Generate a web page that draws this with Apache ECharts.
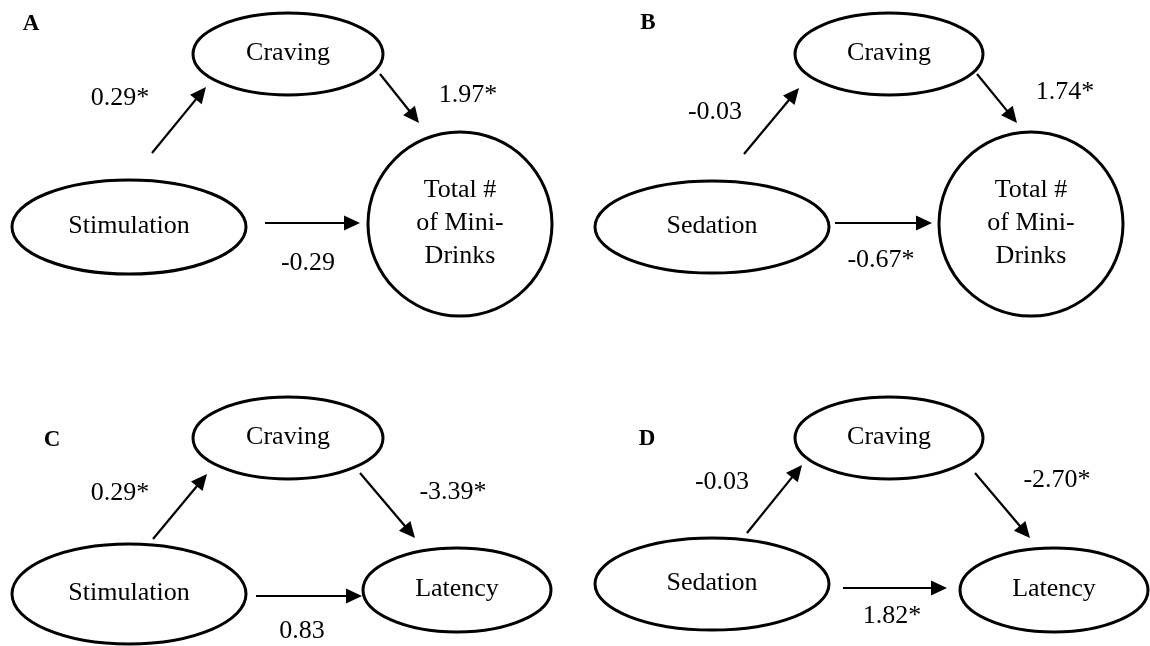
<!DOCTYPE html>
<html>
<head>
<meta charset="utf-8">
<script src="https://cdn.jsdelivr.net/npm/echarts@6/dist/echarts.min.js"></script>
<style>
  html, body { margin: 0; padding: 0; background: #ffffff; }
  #chart { width: 1150px; height: 646px; }
</style>
</head>
<body>
<div id="chart"></div>
<script>
// ---- Data ----
const panelLetters = ['A', 'B', 'C', 'D'];
const predictors   = ['Stimulation', 'Sedation', 'Stimulation', 'Sedation'];
const mediators    = ['Craving', 'Craving', 'Craving', 'Craving'];
const outcomes     = ['Total #\nof Mini-\nDrinks', 'Total #\nof Mini-\nDrinks', 'Latency', 'Latency'];
const pathA        = ['0.29*', '-0.03', '0.29*', '-0.03'];   // predictor -> craving
const pathB        = ['1.97*', '1.74*', '-3.39*', '-2.70*']; // craving -> outcome
const pathC        = ['-0.29', '-0.67*', '0.83', '1.82*'];   // predictor -> outcome

// ---- Layout (diagram geometry in axis units) ----
const layout = [
  { letter: [31, 24], med: [288, 54, 95, 41], pred: [129, 227, 117, 47], out: [460, 224, 92, 92],
    a: [152, 153, 206, 87], b: [380, 74, 419, 123], c: [265, 223, 360, 223],
    aLab: [120, 98], bLab: [468, 95], cLab: [308, 263] },
  { letter: [648, 23], med: [889, 54, 94, 41], pred: [712, 227, 117, 46], out: [1031, 224, 92, 92],
    a: [744, 154, 799, 88], b: [977, 74, 1017, 123], c: [835, 223, 932, 223],
    aLab: [715, 112], bLab: [1065, 92], cLab: [881, 260] },
  { letter: [52, 440], med: [288, 438, 95, 41], pred: [129, 594, 117, 50], out: [457, 590, 94, 42],
    a: [153, 539, 207, 474], b: [360, 473, 415, 538], c: [256, 596, 362, 596],
    aLab: [120, 493], bLab: [453, 492], cLab: [302, 631] },
  { letter: [647, 439], med: [889, 438, 94, 41], pred: [712, 584, 117, 46], out: [1054, 590, 94, 42],
    a: [747, 533, 802, 465], b: [975, 473, 1030, 538], c: [843, 588, 947, 588],
    aLab: [722, 482], bLab: [1057, 480], cLab: [892, 616] }
];

const FONT = '"Liberation Serif", "Times New Roman", serif';

// Build series data from arrays
const nodeData = [], nodeText = [];
const arrowData = [];
const labelData = [], labelText = [];
const letterData = [], letterText = [];
layout.forEach(function (L, i) {
  nodeData.push(L.med);  nodeText.push(mediators[i]);
  nodeData.push(L.pred); nodeText.push(predictors[i]);
  nodeData.push(L.out);  nodeText.push(outcomes[i]);
  arrowData.push(L.a, L.b, L.c);
  labelData.push(L.aLab); labelText.push(pathA[i]);
  labelData.push(L.bLab); labelText.push(pathB[i]);
  labelData.push(L.cLab); labelText.push(pathC[i]);
  letterData.push(L.letter); letterText.push(panelLetters[i]);
});

const chart = echarts.init(document.getElementById('chart'), null, { renderer: 'canvas' });

const option = {
  backgroundColor: '#ffffff',
  animation: false,
  grid: { left: 0, right: 0, top: 0, bottom: 0 },
  xAxis: { type: 'value', min: 0, max: 1150, show: false },
  yAxis: { type: 'value', min: 0, max: 646, inverse: true, show: false },
  series: [
    {
      type: 'custom', name: 'nodes', data: nodeData,
      renderItem: function (params, api) {
        const c = api.coord([api.value(0), api.value(1)]);
        const s = api.size([api.value(2), api.value(3)]);
        return {
          type: 'group',
          children: [
            { type: 'ellipse', shape: { cx: c[0], cy: c[1], rx: s[0], ry: s[1] },
              style: { fill: '#ffffff', stroke: '#000000', lineWidth: 3 } },
            { type: 'text',
              style: { text: nodeText[params.dataIndex], x: c[0], y: c[1] - 1,
                       align: 'center', verticalAlign: 'middle',
                       font: '26px ' + FONT, lineHeight: 33, fill: '#000000' } }
          ]
        };
      }
    },
    {
      type: 'custom', name: 'paths', data: arrowData,
      renderItem: function (params, api) {
        const p1 = api.coord([api.value(0), api.value(1)]);
        const p2 = api.coord([api.value(2), api.value(3)]);
        const dx = p2[0] - p1[0], dy = p2[1] - p1[1];
        const len = Math.sqrt(dx * dx + dy * dy);
        const ux = dx / len, uy = dy / len;
        const hl = 16, hw = 7.5;
        const bx = p2[0] - ux * hl, by = p2[1] - uy * hl;
        return {
          type: 'group',
          children: [
            { type: 'line', shape: { x1: p1[0], y1: p1[1], x2: bx + ux * 2, y2: by + uy * 2 },
              style: { stroke: '#000000', lineWidth: 2.2 } },
            { type: 'polygon',
              shape: { points: [[p2[0], p2[1]], [bx - uy * hw, by + ux * hw], [bx + uy * hw, by - ux * hw]] },
              style: { fill: '#000000' } }
          ]
        };
      }
    },
    {
      type: 'custom', name: 'coefficients', data: labelData,
      renderItem: function (params, api) {
        const c = api.coord([api.value(0), api.value(1)]);
        return { type: 'text',
          style: { text: labelText[params.dataIndex], x: c[0], y: c[1],
                   align: 'center', verticalAlign: 'middle',
                   font: '26px ' + FONT, fill: '#000000' } };
      }
    },
    {
      type: 'custom', name: 'panels', data: letterData,
      renderItem: function (params, api) {
        const c = api.coord([api.value(0), api.value(1)]);
        return { type: 'text',
          style: { text: letterText[params.dataIndex], x: c[0], y: c[1],
                   align: 'center', verticalAlign: 'middle',
                   font: 'bold 23px ' + FONT, fill: '#000000' } };
      }
    }
  ]
};
chart.setOption(option);
</script>
</body>
</html>
